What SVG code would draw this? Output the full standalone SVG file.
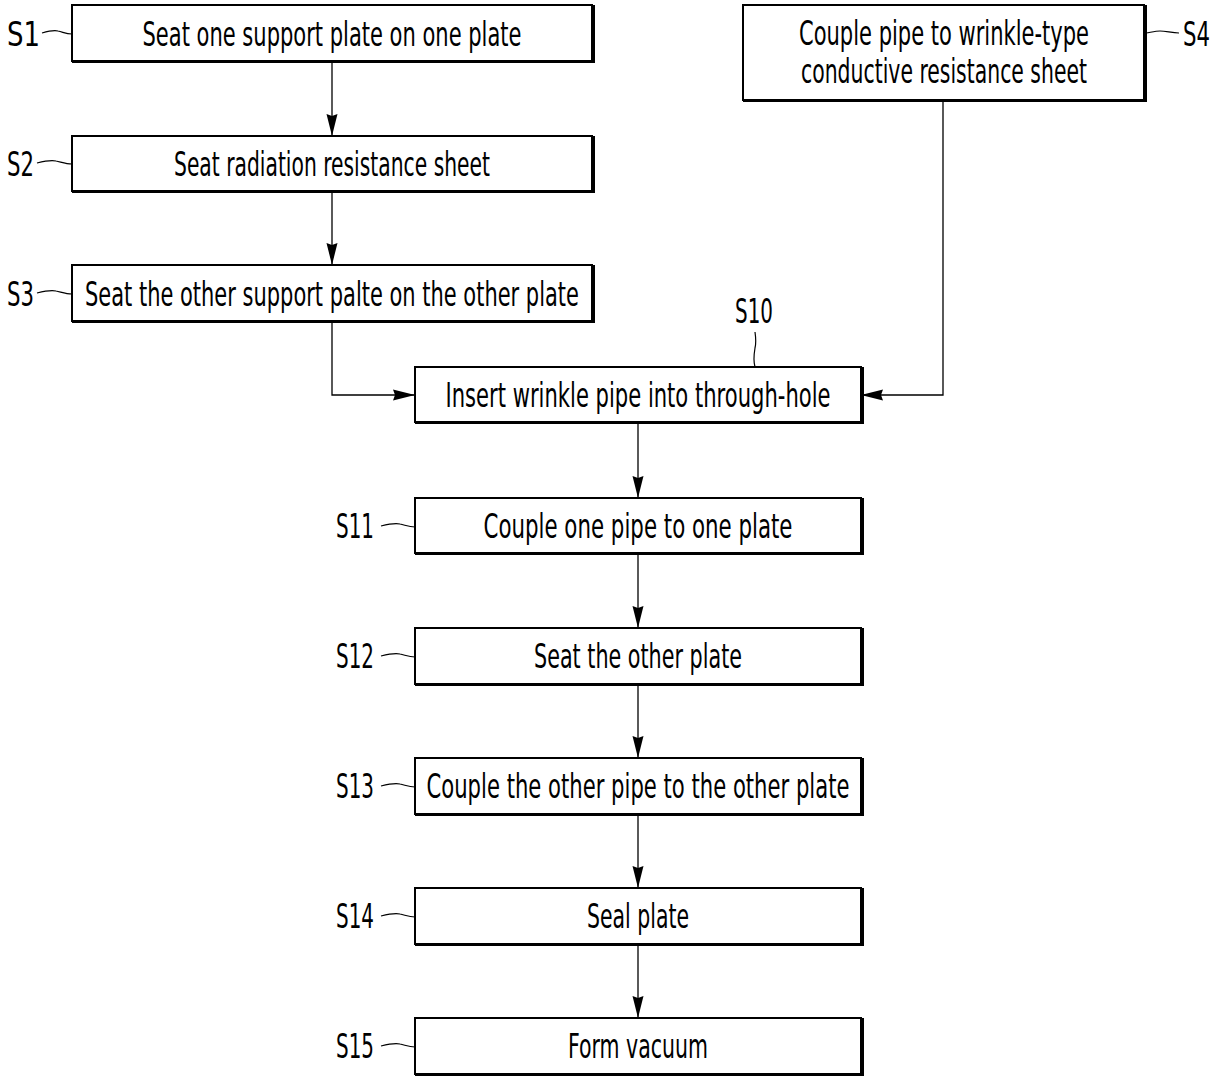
<svg xmlns="http://www.w3.org/2000/svg" width="1223" height="1076" viewBox="0 0 1223 1076">
  <style>
    .box { fill: #fff; stroke: #000; stroke-width: 2; }
    .shade { stroke: #000; stroke-width: 3; fill: none; }
    .t { font-family: "Liberation Sans Narrow", "DejaVu Sans Condensed", "Liberation Sans", sans-serif; font-size: 33px; fill: #000; }
    .lbl { font-family: "Liberation Sans Narrow", "DejaVu Sans Condensed", "Liberation Sans", sans-serif; font-size: 33px; fill: #000; }
    .lead { stroke: #000; stroke-width: 1.2; fill: none; }
    .edge { stroke: #000; stroke-width: 1.3; fill: none; marker-end: url(#arr); }
  </style>
  <defs>
    <marker id="arr" markerUnits="userSpaceOnUse" markerWidth="24" markerHeight="12" refX="22" refY="6" orient="auto">
      <path d="M0,0.5 L22,6 L0,11.5 L2,6 Z" fill="#000"/>
    </marker>
  </defs>

  <!-- connectors -->
  <g id="connectors">
    <path class="edge" d="M332,62 V136"/>
    <path class="edge" d="M332,191 V265"/>
    <path class="edge" d="M332,322 V395 H415"/>
    <path class="edge" d="M943,101 V395 H861"/>
    <path class="edge" d="M638,423 V498"/>
    <path class="edge" d="M638,553 V628"/>
    <path class="edge" d="M638,684 V758"/>
    <path class="edge" d="M638,814 V888"/>
    <path class="edge" d="M638,944 V1018"/>
  </g>

  <g id="S1">
    <rect class="box" x="72" y="5" width="520" height="56"/>
    <path class="shade" d="M72,61.5 H593.5 V5"/>
    <text class="t" x="332" y="46" text-anchor="middle" textLength="379" lengthAdjust="spacingAndGlyphs">Seat one support plate on one plate</text>
    <path class="lead" d="M42,33 C49,31 54,30 58,31 C63,32 66,34 72,34"/>
    <text class="lbl" x="7" y="46" textLength="33" lengthAdjust="spacingAndGlyphs">S1</text>
  </g>

  <g id="S2">
    <rect class="box" x="72" y="136" width="520" height="55"/>
    <path class="shade" d="M72,191.5 H593.5 V136"/>
    <text class="t" x="332" y="176" text-anchor="middle" textLength="316" lengthAdjust="spacingAndGlyphs">Seat radiation resistance sheet</text>
    <path class="lead" d="M37,163 C45,161 52,160 56,161 C61,162 66,164 72,164"/>
    <text class="lbl" x="7" y="176" textLength="27" lengthAdjust="spacingAndGlyphs">S2</text>
  </g>

  <g id="S3">
    <rect class="box" x="72" y="265" width="520" height="56"/>
    <path class="shade" d="M72,321.5 H593.5 V265"/>
    <text class="t" x="332" y="306" text-anchor="middle" textLength="494" lengthAdjust="spacingAndGlyphs">Seat the other support palte on the other plate</text>
    <path class="lead" d="M37,293 C45,291 52,290 56,291 C61,292 66,294 72,294"/>
    <text class="lbl" x="7" y="306" textLength="27" lengthAdjust="spacingAndGlyphs">S3</text>
  </g>

  <g id="S4">
    <rect class="box" x="743" y="5" width="401" height="95"/>
    <path class="shade" d="M743,100.5 H1145.5 V5"/>
    <text class="t" x="944" y="45" text-anchor="middle" textLength="290" lengthAdjust="spacingAndGlyphs">Couple pipe to wrinkle-type</text>
    <text class="t" x="944" y="83" text-anchor="middle" textLength="286" lengthAdjust="spacingAndGlyphs">conductive resistance sheet</text>
    <path class="lead" d="M1146,33 C1152,32 1156,31 1160,31 C1166,31 1172,33 1179,33"/>
    <text class="lbl" x="1183" y="46" textLength="27" lengthAdjust="spacingAndGlyphs">S4</text>
  </g>

  <g id="S10">
    <rect class="box" x="415" y="367" width="446" height="55"/>
    <path class="shade" d="M415,422.5 H862.5 V367"/>
    <text class="t" x="638" y="407" text-anchor="middle" textLength="385" lengthAdjust="spacingAndGlyphs">Insert wrinkle pipe into through-hole</text>
    <path class="lead" d="M755,332 C756,339 756,344 755,348 C754,354 753,360 755,367"/>
    <text class="lbl" x="735" y="323" textLength="38" lengthAdjust="spacingAndGlyphs">S10</text>
  </g>

  <g id="S11">
    <rect class="box" x="415" y="498" width="446" height="55"/>
    <path class="shade" d="M415,553.5 H862.5 V498"/>
    <text class="t" x="638" y="538" text-anchor="middle" textLength="309" lengthAdjust="spacingAndGlyphs">Couple one pipe to one plate</text>
    <path class="lead" d="M381,526 C389,524 396,523 400,524 C405,525 409,527 415,527"/>
    <text class="lbl" x="336" y="538" textLength="38" lengthAdjust="spacingAndGlyphs">S11</text>
  </g>

  <g id="S12">
    <rect class="box" x="415" y="628" width="446" height="56"/>
    <path class="shade" d="M415,684.5 H862.5 V628"/>
    <text class="t" x="638" y="668" text-anchor="middle" textLength="208" lengthAdjust="spacingAndGlyphs">Seat the other plate</text>
    <path class="lead" d="M381,656 C389,654 396,653 400,654 C405,655 409,657 415,657"/>
    <text class="lbl" x="336" y="668" textLength="38" lengthAdjust="spacingAndGlyphs">S12</text>
  </g>

  <g id="S13">
    <rect class="box" x="415" y="758" width="446" height="56"/>
    <path class="shade" d="M415,814.5 H862.5 V758"/>
    <text class="t" x="638" y="798" text-anchor="middle" textLength="423" lengthAdjust="spacingAndGlyphs">Couple the other pipe to the other plate</text>
    <path class="lead" d="M381,786 C389,784 396,783 400,784 C405,785 409,787 415,787"/>
    <text class="lbl" x="336" y="798" textLength="38" lengthAdjust="spacingAndGlyphs">S13</text>
  </g>

  <g id="S14">
    <rect class="box" x="415" y="888" width="446" height="56"/>
    <path class="shade" d="M415,944.5 H862.5 V888"/>
    <text class="t" x="638" y="928" text-anchor="middle" textLength="102" lengthAdjust="spacingAndGlyphs">Seal plate</text>
    <path class="lead" d="M381,916 C389,914 396,913 400,914 C405,915 409,917 415,917"/>
    <text class="lbl" x="336" y="928" textLength="38" lengthAdjust="spacingAndGlyphs">S14</text>
  </g>

  <g id="S15">
    <rect class="box" x="415" y="1018" width="446" height="56"/>
    <path class="shade" d="M415,1074.5 H862.5 V1018"/>
    <text class="t" x="638" y="1058" text-anchor="middle" textLength="140" lengthAdjust="spacingAndGlyphs">Form vacuum</text>
    <path class="lead" d="M381,1046 C389,1044 396,1043 400,1044 C405,1045 409,1047 415,1047"/>
    <text class="lbl" x="336" y="1058" textLength="38" lengthAdjust="spacingAndGlyphs">S15</text>
  </g>
</svg>
